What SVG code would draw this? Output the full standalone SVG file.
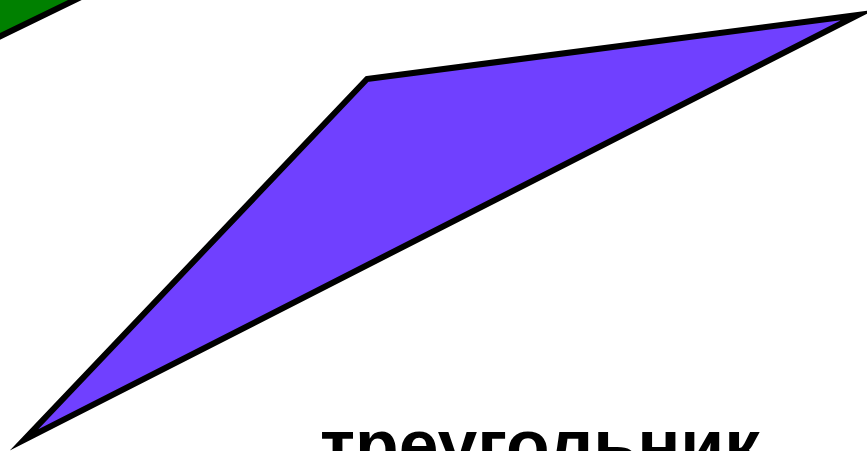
<svg xmlns="http://www.w3.org/2000/svg" width="867" height="451" viewBox="0 0 867 451">
<style>
.shape{stroke:#000;stroke-width:6;stroke-linejoin:miter;stroke-miterlimit:20}
.label{font-family:"Liberation Sans",Arial,sans-serif;font-size:72px;font-weight:bold;fill:#000}
</style>
<rect width="867" height="451" fill="#fff"/>
<g id="green-shape">
<polygon class="shape" fill="#008000" points="-30,51 79,-2 79,-40 -30,-40"/>
</g>
<g id="triangle">
<polygon class="shape" fill="#7040ff" points="367,79 858,15 24,440"/>
</g>
<g id="label">
<text class="label" x="320" y="470" textLength="440" lengthAdjust="spacingAndGlyphs">треугольник</text>
</g>
<g id="connectors"/>
</svg>
